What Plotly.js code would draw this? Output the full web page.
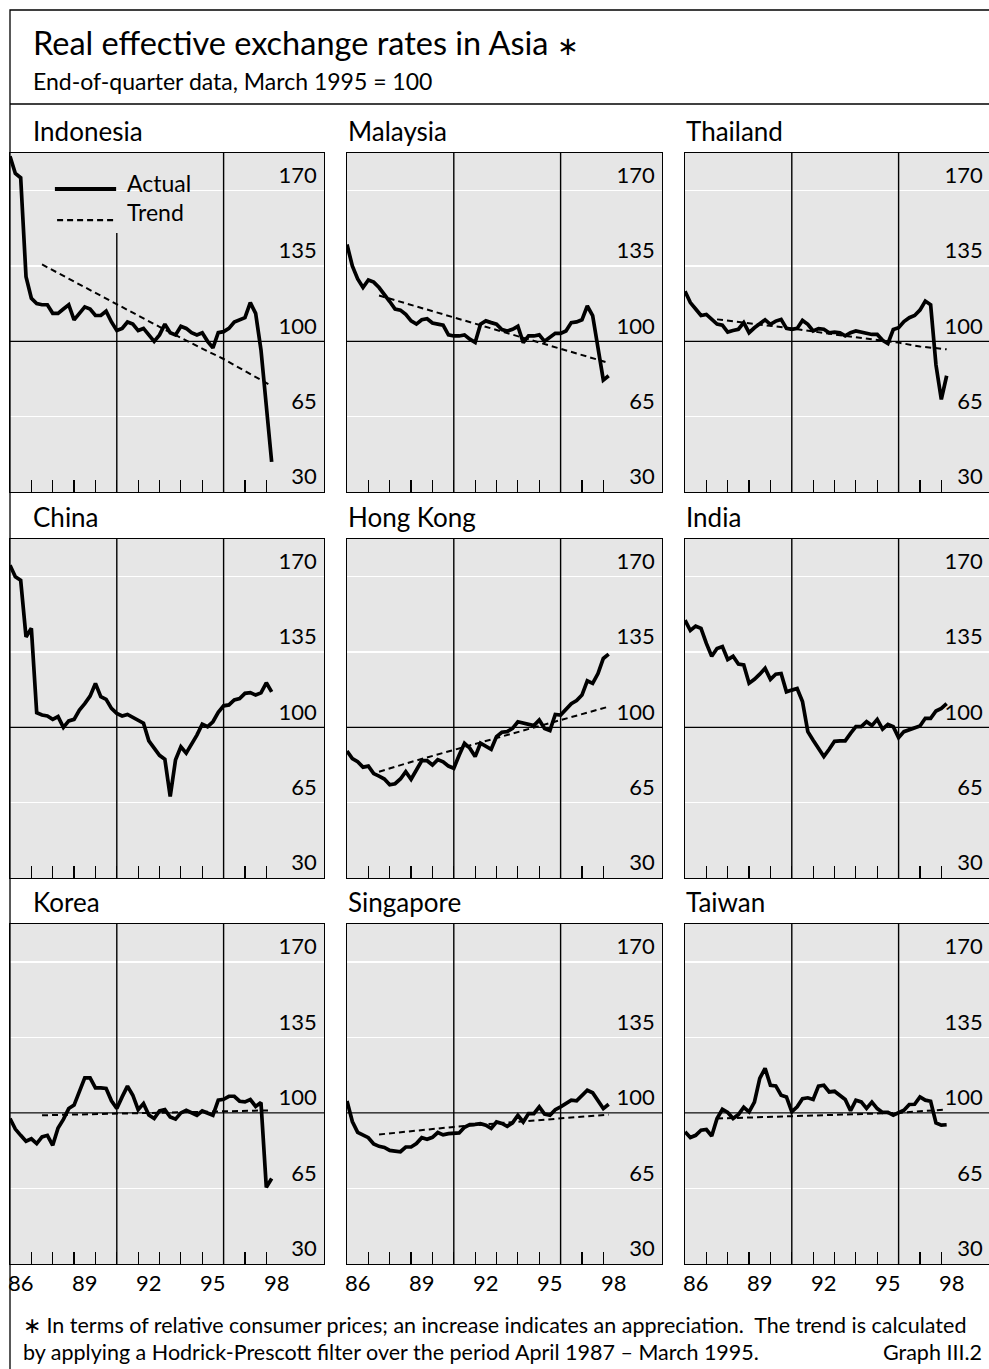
<!DOCTYPE html>
<html>
<head>
<meta charset="utf-8">
<script src="https://cdn.plot.ly/plotly-3.0.1.min.js"></script>
<style>
html,body{margin:0;padding:0;overflow:hidden;background:#fff}
#chart{width:1010px;height:1400px}
</style>
</head>
<body>
<div id="chart"></div>
<script>
// ---------------- data ----------------
const firstQuarter = 1986;          // position of first end-of-quarter observation
const countries = ['Indonesia','Malaysia','Thailand','China','Hong Kong','India','Korea','Singapore','Taiwan'];

const indonesia = [186,178,176,130,120,117.5,117,117,113,113,115,117,110,113,116,115,112,112,114,109,
  105,106,109,108,105,106,103,100,103,108,104,103,107,106,104,103,104,100,97,104,
  104.5,106,109,110,111,118,113,96,70,44];
const malaysia = [145,135,129,125,128.5,127.5,125,122,118.5,115,114.5,112.5,109.5,108,110,110.5,108.5,108,107.5,103,
  102.5,102.5,103,101,99.5,108,109.5,108.7,108,105.5,104.8,105.6,107,99.4,102.5,102.5,103,100,101.7,103.7,
  103.7,104.8,108.7,109,110,116.4,112,98,82,84];
const thailand = [123.3,118,115,112,112.5,110,108,107.5,104.3,105,105.6,108.7,104,106.3,108.3,110,107.9,109.4,110.2,106,
  105.6,106,109.7,107.9,104.8,105.9,105.6,104,104.3,104,102.5,104,104.8,104.3,103.6,103.2,103.2,100.5,99,105.5,
  106.3,109.2,111,112,114.5,118.7,117,89,73,84];
const china = [175.3,170,168.3,142,146,106.8,105.7,105.3,103.7,105,100,103,103.7,108,111,114.5,120.4,114.2,113,108.8,
  106.5,105.3,106,104.5,103,101.9,93.7,90.5,87,85.2,67.9,84.9,91,88,92,96.4,101.5,100.3,102.6,107,
  110,110.4,112.7,113.4,115.8,116.1,115,116,120.7,116.5];
const hongKong = [89,85.5,84,81.5,82,78.5,77.3,76,73.3,73.8,76,79.4,75.9,80,84.5,84.5,82.5,85,84,82,
  81,87,92.6,90.3,86.4,92.6,91,89.8,95.7,97.7,98,99.5,102.6,101.9,101.5,100.8,103.4,99.5,98.5,106,
  105.7,108.3,111,112.4,115,121.6,120.4,125,132,134];
const india = [149.8,145,147,146,139,133,136.6,137.5,131.5,133,129.4,129,120.5,122.3,124.7,127.4,122.3,124.7,125,116.5,
  117.3,118,112,98,94,89.8,86.4,89.8,93.5,93.7,93.7,97.2,100.3,100.3,102.6,100.8,103.7,99.2,101.4,100.3,
  95.2,98,98.8,99.5,100.6,104.2,104.2,107.6,108.8,111];
const korea = [97.4,92.5,89.6,86.9,88,85.8,88.9,89.6,85,93,97,102,103.6,110,116.2,116.2,111.6,111.6,111.3,105.6,
  102,107.4,112.4,108.2,101.5,104.3,99,97.4,100.9,101.5,98.1,97.1,100,101.2,100.2,98.9,100.9,99.7,98.9,105.9,
  106.3,107.7,107.7,105.4,105.1,106.2,103,104.8,65.5,69.6];
const singapore = [105.5,96,91,89.6,88.5,85.6,84.5,84,82.6,82.3,82,84.2,84.2,85.8,88.5,87.8,88.7,90.9,89.8,90.4,
  90.4,90.7,93.3,94.6,94.7,95,94.3,92.8,95.8,95.1,93.8,95.4,98.9,95.8,99.7,99.7,102.8,99.4,98.9,101.5,
  102.8,104.3,105.9,105.6,108.2,110.5,109.3,105.9,102,104];
const taiwan = [91.2,88.6,89.6,92,92.3,89.3,97.4,101.7,100.2,97.4,99.2,102.6,100.5,105,116,120.6,112.8,112.5,108.2,107.4,
  100.5,102.8,106.6,107,106.2,112.4,112.8,109.7,110,108.2,106.2,101,105.9,105.1,102.1,105,102,100.2,100.2,98.9,
  100,101.2,103.9,104,107.4,105.9,105.4,95.4,94.3,94.5];

// Hodrick-Prescott trends (read at these dates)
const trendYears = [1987.5, 1989, 1991, 1993, 1995, 1996, 1997, 1998.25];
const indonesiaTrend = [135.7,127.7,117.2,106.7,96.6,91.8,86.2,79.3];
const malaysiaTrend  = [121.3,116.9,111.1,105.3,99.4,96.5,93.6,90];
const thailandTrend  = [110.2,108.4,106,103.2,100.6,99.4,97.6,96.3];
const hongKongTrend  = [79.4,83.9,89.5,95,100.5,103.4,106.2,109.6];
const koreaTrend     = [98.9,99.2,99.7,100.2,100.6,100.9,101,101.2];
const singaporeTrend = [90,91.5,93.5,95.1,96.6,97.4,98.2,99.2];
const taiwanTrend    = [97.4,97.9,98.6,99.3,99.9,100,100.8,101.5];

const yTickVals = [30,65,100,135,170];
const xTickVals = [1986.5,1989.5,1992.5,1995.5,1998.5];
const xTickText = ['86','89','92','95','98'];
const yearTicks = [1987,1988,1989,1990,1991,1992,1993,1994,1995,1996,1997,1998,1999];
const markerYears = [1991,1996];

const actualSeries = [indonesia, malaysia, thailand, china, hongKong, india, korea, singapore, taiwan];
const trendSeries  = [indonesiaTrend, malaysiaTrend, thailandTrend, null, hongKongTrend, null, koreaTrend, singaporeTrend, taiwanTrend];

// ---------------- layout geometry ----------------
const W = 1010, H = 1400;
const FONT = 'Lato, "Open Sans", sans-serif';
const PX_PER_YEAR = 21.36;
const colPx = [[10,324],[347,662],[685,990]];
const rowPx = [[153,492],[539,878],[924,1264]];
const titleX = [31,346,684];
const titleY = [131,516.5,902];
const px = v => v / W;
const py = v => 1 - v / H;

const quarters = actualSeries[0].map((_, i) => firstQuarter + i / 4);

const traces = [];
const shapes = [];
const annotations = [];
const layout = {
  width: W, height: H,
  margin: {l:0, r:0, t:0, b:0},
  paper_bgcolor: '#ffffff',
  plot_bgcolor: '#e6e6e6',
  showlegend: false,
  font: {family: FONT, color: '#000', size: 22},
};

countries.forEach((name, k) => {
  const r = Math.floor(k / 3), c = k % 3, n = k + 1;
  const xa = n === 1 ? 'x' : 'x' + n;
  const ya = n === 1 ? 'y' : 'y' + n;
  const widthYears = (colPx[c][1] - colPx[c][0]) / PX_PER_YEAR;
  layout[n === 1 ? 'xaxis' : 'xaxis' + n] = {
    domain: [px(colPx[c][0]), px(colPx[c][1])],
    range: [1986, 1986 + widthYears],
    anchor: ya,
    showgrid: false, zeroline: false,
    showline: true, mirror: true, linecolor: '#000', linewidth: 1.2,
    tickmode: 'array', tickvals: xTickVals, ticktext: xTickText,
    ticks: '', showticklabels: false,
    minor: {tickmode: 'array', tickvals: yearTicks, ticks: 'inside', ticklen: 12, tickwidth: 1.2, tickcolor: '#000', showgrid: false},
    fixedrange: true
  };
  layout[n === 1 ? 'yaxis' : 'yaxis' + n] = {
    domain: [py(rowPx[r][1]), py(rowPx[r][0])],
    range: [30, 187.5],
    anchor: xa,
    side: 'right',
    tickmode: 'array', tickvals: yTickVals,
    ticks: '', ticklabelposition: 'inside top',
    ticklabelstandoff: 8,
    showgrid: true, gridcolor: '#ffffff', gridwidth: 1.5,
    zeroline: false,
    showline: true, mirror: true, linecolor: '#000', linewidth: 1.2,
    tickfont: {family: FONT, size: 22, color: '#000'},
    fixedrange: true
  };

  const tr = trendSeries[k];
  if (tr) {
    traces.push({x: trendYears, y: tr, xaxis: xa, yaxis: ya, mode: 'lines', name: 'Trend',
      line: {color: '#000', width: 2, dash: '6px,4px'}, hoverinfo: 'skip'});
  }
  traces.push({x: quarters, y: actualSeries[k], xaxis: xa, yaxis: ya, mode: 'lines', name: 'Actual',
    line: {color: '#000', width: 3.7}, hoverinfo: 'skip'});

  // 100 reference line
  shapes.push({type: 'line', xref: xa + ' domain', yref: ya, x0: 0, x1: 1, y0: 100, y1: 100,
    line: {color: '#000', width: 1.3}});
  // vertical marker lines
  markerYears.forEach(yr => {
    const top = (k === 0 && yr === 1991) ? 0.764 : 1;
    shapes.push({type: 'line', xref: xa, yref: ya + ' domain', x0: yr, x1: yr, y0: 0, y1: top,
      line: {color: '#000', width: 1.4}});
  });

  // year labels under the bottom row (placed on the x axis scale)
  if (r === 2) {
    xTickVals.forEach((v, j) => {
      annotations.push({text: xTickText[j], xref: xa, yref: ya + ' domain', x: v, y: 0,
        xanchor: 'center', yanchor: 'top', yshift: -3, showarrow: false,
        font: {family: FONT, size: 22, color: '#000'}});
    });
  }

  annotations.push({text: name, xref: 'paper', yref: 'paper', x: px(titleX[c]), y: py(titleY[r]),
    xanchor: 'left', yanchor: 'middle', showarrow: false, font: {family: FONT, size: 26, color: '#000'}});
});

// custom legend in the Indonesia panel
shapes.push({type: 'line', xref: 'x domain', yref: 'y domain', x0: 0.143, x1: 0.338, y0: 0.894, y1: 0.894,
  line: {color: '#000', width: 4}});
shapes.push({type: 'line', xref: 'x domain', yref: 'y domain', x0: 0.150, x1: 0.338, y0: 0.802, y1: 0.802,
  line: {color: '#000', width: 2.2, dash: '6px,4px'}});
annotations.push({text: 'Actual', xref: 'x domain', yref: 'y domain', x: 0.366, y: 0.912, xanchor: 'left', yanchor: 'middle',
  showarrow: false, font: {family: FONT, size: 23, color: '#000'}});
annotations.push({text: 'Trend', xref: 'x domain', yref: 'y domain', x: 0.366, y: 0.826, xanchor: 'left', yanchor: 'middle',
  showarrow: false, font: {family: FONT, size: 23, color: '#000'}});

// outer frame and header separator
shapes.push({type: 'rect', xref: 'paper', yref: 'paper', x0: px(10), x1: 1.2, y0: py(10), y1: -0.2,
  line: {color: '#000', width: 1.3}, fillcolor: 'rgba(0,0,0,0)'});
shapes.push({type: 'line', xref: 'paper', yref: 'paper', x0: px(10), x1: 1.2, y0: py(104), y1: py(104),
  line: {color: '#000', width: 1.3}});

// titles and footnote
annotations.push({text: 'Real effective exchange rates in Asia <span style="font-size:26px">∗</span>', xref: 'paper', yref: 'paper',
  x: px(31), y: py(42), xanchor: 'left', yanchor: 'middle', showarrow: false, font: {family: FONT, size: 32.5, color: '#000'}});
annotations.push({text: 'End-of-quarter data, March 1995 = 100', xref: 'paper', yref: 'paper',
  x: px(31), y: py(81), xanchor: 'left', yanchor: 'middle', showarrow: false, font: {family: FONT, size: 23, color: '#000'}});
annotations.push({text: '∗ In terms of relative consumer prices; an increase indicates an appreciation.  The trend is calculated', xref: 'paper', yref: 'paper',
  x: px(21), y: py(1324.5), xanchor: 'left', yanchor: 'middle', showarrow: false, font: {family: FONT, size: 21.5, color: '#000'}});
annotations.push({text: 'by applying a Hodrick-Prescott filter over the period April 1987 – March 1995.', xref: 'paper', yref: 'paper',
  x: px(21), y: py(1351.5), xanchor: 'left', yanchor: 'middle', showarrow: false, font: {family: FONT, size: 21.5, color: '#000'}});
annotations.push({text: 'Graph III.2', xref: 'paper', yref: 'paper',
  x: px(984), y: py(1351.5), xanchor: 'right', yanchor: 'middle', showarrow: false, font: {family: FONT, size: 21.5, color: '#000'}});

layout.shapes = shapes;
layout.annotations = annotations;

Plotly.newPlot('chart', traces, layout, {staticPlot: true, displayModeBar: false});
</script>
</body>
</html>
